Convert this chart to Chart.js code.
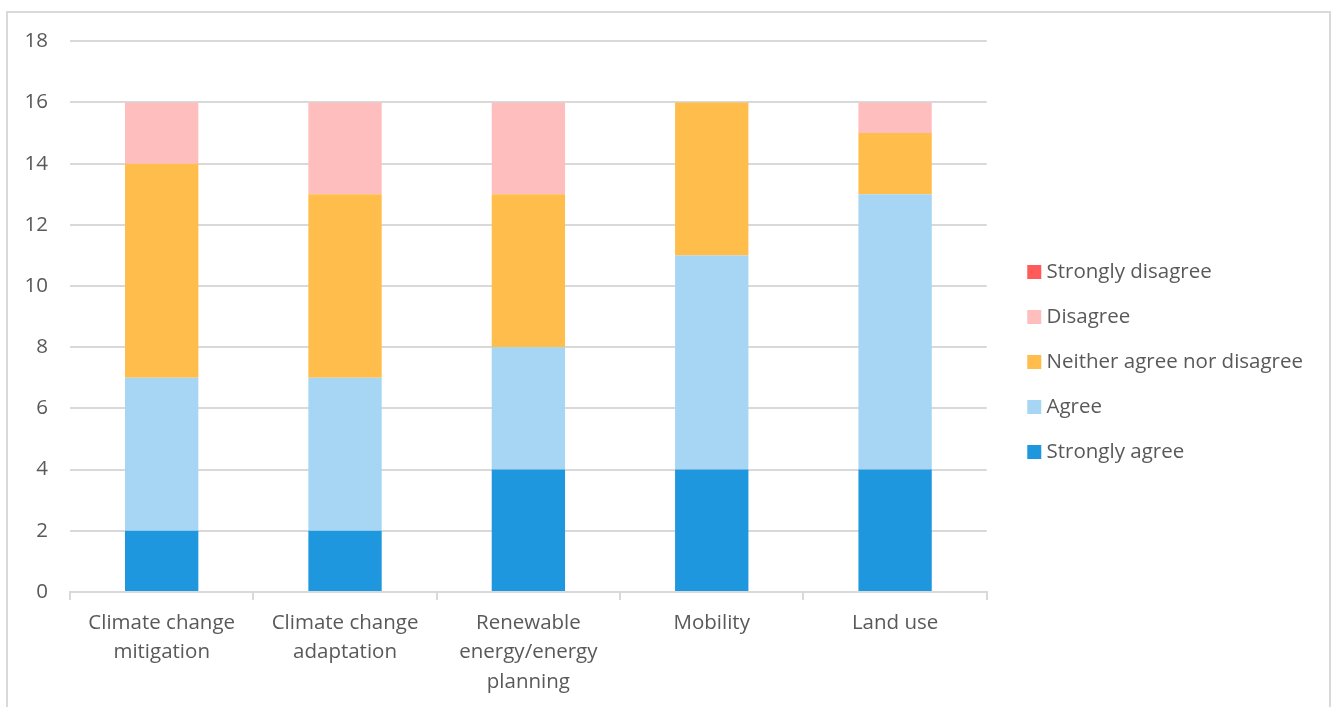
<!DOCTYPE html>
<html>
<head>
<meta charset="utf-8">
<script src="https://cdn.jsdelivr.net/npm/chart.js@4"></script>
<style>
  html, body { margin: 0; padding: 0; background: #fff; overflow: hidden; }
  #wrap { position: absolute; left: 6px; top: 11px; width: 1325px; height: 710px; border: 2px solid #d9d9d9; box-sizing: border-box; }
  #c { position: absolute; left: 0; top: -6px; }
</style>
</head>
<body>
<div id="wrap"><canvas id="c" width="1321" height="694"></canvas></div>
<script>
const categories = [
  ["Climate change", "mitigation"],
  ["Climate change", "adaptation"],
  ["Renewable", "energy/energy", "planning"],
  ["Mobility"],
  ["Land use"]
];
const seriesNames = ["Strongly agree", "Agree", "Neither agree nor disagree", "Disagree", "Strongly disagree"];
const stronglyAgree = [2, 2, 4, 4, 4];
const agree = [5, 5, 4, 7, 9];
const neither = [7, 6, 5, 5, 2];
const disagree = [2, 3, 3, 0, 1];
const stronglyDisagree = [0, 0, 0, 0, 0];
const yTicks = [0, 2, 4, 6, 8, 10, 12, 14, 16, 18];

const colors = ["#1f97df", "#a6d6f3", "#ffbe4b", "#ffbebe", "#ff5b5b"];
const values = [stronglyAgree, agree, neither, disagree, stronglyDisagree];

const FONT = "'Open Sans', sans-serif";
const FS = 20.5;
const TXT = "#595959";
const GRID = "#d9d9d9";

// nudges the legend block away from the plot area
const legendNudge = {
  id: "legendNudge",
  afterLayout(chart) {
    const lg = chart.legend;
    if (!lg) return;
    const dx = 21, dy = 6;
    lg.left += dx; lg.right += dx;
    lg.top += dy; lg.bottom += dy;
  }
};

new Chart(document.getElementById("c"), {
  type: "bar",
  data: {
    labels: categories,
    datasets: seriesNames.map((n, i) => ({
      label: n,
      data: values[i],
      backgroundColor: colors[i],
      borderWidth: 0,
      barPercentage: 0.4,
      categoryPercentage: 1.0
    }))
  },
  options: {
    responsive: false,
    animation: false,
    devicePixelRatio: 1,
    layout: { padding: { top: 4, left: 0, right: 37, bottom: 0 } },
    plugins: {
      tooltip: { enabled: false },
      legend: {
        position: "right",
        reverse: true,
        align: "center",
        labels: {
          usePointStyle: true,
          pointStyle: "rect",
          boxWidth: 4,
          boxHeight: 14,
          padding: 24.5,
          color: TXT,
          font: { family: FONT, size: FS }
        }
      }
    },
    scales: {
      x: {
        stacked: true,
        grid: {
          offset: true,
          drawOnChartArea: false,
          drawTicks: true,
          tickLength: 8,
          color: GRID,
          lineWidth: 2
        },
        border: { color: GRID, width: 2 },
        ticks: {
          color: TXT,
          padding: 8,
          maxRotation: 0,
          autoSkip: false,
          font: { family: FONT, size: FS, lineHeight: 1.45 }
        },
        afterFit: (s) => { s.height = 109; }
      },
      y: {
        stacked: true,
        min: 0,
        max: 18,
        afterBuildTicks: (s) => { s.ticks = yTicks.map(v => ({ value: v })); },
        grid: { color: GRID, lineWidth: 2, drawTicks: false },
        border: { display: false },
        ticks: {
          color: TXT,
          padding: 22,
          font: { family: FONT, size: FS }
        },
        afterFit: (s) => { s.width = 62; }
      }
    }
  },
  plugins: [legendNudge]
});
</script>
</body>
</html>
